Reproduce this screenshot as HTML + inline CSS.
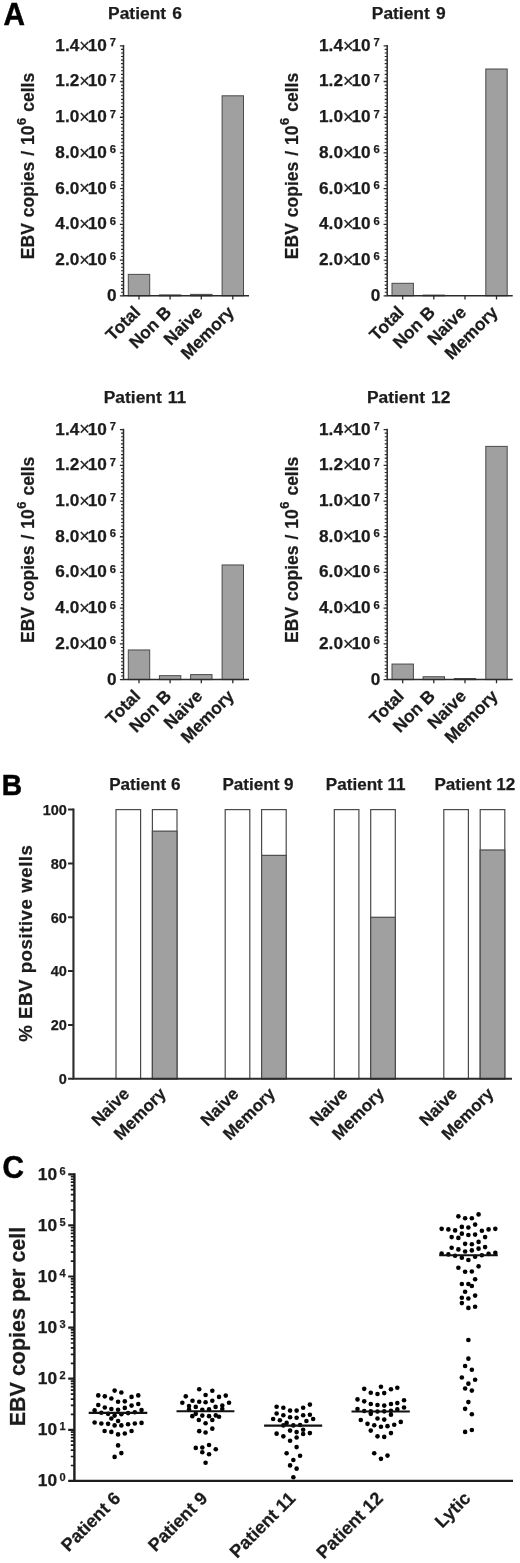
<!DOCTYPE html>
<html lang="en"><head><meta charset="utf-8"><title>Figure</title>
<style>html,body{margin:0;padding:0;background:#fff}svg{display:block;will-change:transform;filter:grayscale(1)}text{font-family:"Liberation Sans", Arial, Helvetica, sans-serif;font-weight:bold;fill:#1c1c1c;stroke:#1c1c1c;stroke-width:0.25px}</style></head><body>
<svg width="520" height="1563" viewBox="0 0 520 1563">
<rect width="520" height="1563" fill="#fff"/>
<text transform="translate(3.6 25) scale(0.94 1)" font-size="31.6" style="fill:#000;stroke:#000;stroke-width:0.5px">A</text>
<text transform="translate(1.8 794.7) scale(0.94 1)" font-size="30" style="fill:#000;stroke:#000;stroke-width:0.5px">B</text>
<text transform="translate(2.6 1178.4) scale(0.93 1)" font-size="32" style="fill:#000;stroke:#000;stroke-width:0.5px">C</text>
<text x="145" y="19.3" text-anchor="middle" font-size="17.4" word-spacing="1.3">Patient 6</text>
<text transform="translate(34.3 166) rotate(-90)" text-anchor="middle" font-size="17.5" word-spacing="1.1">EBV copies / 10<tspan dx="0.6" dy="-8.6" font-size="12.8">6</tspan><tspan dy="8.6"> cells</tspan></text>
<rect x="128.3" y="274.37" width="21.4" height="21.43" fill="#a0a0a0" stroke="#4a4a4a" stroke-width="1"/>
<rect x="159.4" y="294.91" width="21.4" height="0.89" fill="#a0a0a0" stroke="#4a4a4a" stroke-width="1"/>
<rect x="190.6" y="294.37" width="21.4" height="1.43" fill="#a0a0a0" stroke="#4a4a4a" stroke-width="1"/>
<rect x="222.1" y="95.8" width="21.4" height="200" fill="#a0a0a0" stroke="#4a4a4a" stroke-width="1"/>
<path d="M123.5 45.05 V295.8 H249" fill="none" stroke="#2b2b2b" stroke-width="1.5"/>
<path d="M123.5 295.8h-3.6M123.5 260.09h-3.6M123.5 224.37h-3.6M123.5 188.66h-3.6M123.5 152.94h-3.6M123.5 117.23h-3.6M123.5 81.51h-3.6M123.5 45.8h-3.6" fill="none" stroke="#2b2b2b" stroke-width="1.3"/>
<path d="M123.5 292.23h-2.5M123.5 288.66h-2.5M123.5 285.09h-2.5M123.5 281.51h-2.5M123.5 277.94h-2.5M123.5 274.37h-2.5M123.5 270.8h-2.5M123.5 267.23h-2.5M123.5 263.66h-2.5M123.5 256.51h-2.5M123.5 252.94h-2.5M123.5 249.37h-2.5M123.5 245.8h-2.5M123.5 242.23h-2.5M123.5 238.66h-2.5M123.5 235.09h-2.5M123.5 231.51h-2.5M123.5 227.94h-2.5M123.5 220.8h-2.5M123.5 217.23h-2.5M123.5 213.66h-2.5M123.5 210.09h-2.5M123.5 206.51h-2.5M123.5 202.94h-2.5M123.5 199.37h-2.5M123.5 195.8h-2.5M123.5 192.23h-2.5M123.5 185.09h-2.5M123.5 181.51h-2.5M123.5 177.94h-2.5M123.5 174.37h-2.5M123.5 170.8h-2.5M123.5 167.23h-2.5M123.5 163.66h-2.5M123.5 160.09h-2.5M123.5 156.51h-2.5M123.5 149.37h-2.5M123.5 145.8h-2.5M123.5 142.23h-2.5M123.5 138.66h-2.5M123.5 135.09h-2.5M123.5 131.51h-2.5M123.5 127.94h-2.5M123.5 124.37h-2.5M123.5 120.8h-2.5M123.5 113.66h-2.5M123.5 110.09h-2.5M123.5 106.51h-2.5M123.5 102.94h-2.5M123.5 99.37h-2.5M123.5 95.8h-2.5M123.5 92.23h-2.5M123.5 88.66h-2.5M123.5 85.09h-2.5M123.5 77.94h-2.5M123.5 74.37h-2.5M123.5 70.8h-2.5M123.5 67.23h-2.5M123.5 63.66h-2.5M123.5 60.09h-2.5M123.5 56.51h-2.5M123.5 52.94h-2.5M123.5 49.37h-2.5" fill="none" stroke="#2b2b2b" stroke-width="1.1"/>
<path d="M139 295.8v3.6M170.1 295.8v3.6M201.3 295.8v3.6M232.8 295.8v3.6" fill="none" stroke="#2b2b2b" stroke-width="1.3"/>
<text x="116.5" y="300.7" text-anchor="end" font-size="17.2">0</text>
<text x="106.8" y="264.99" text-anchor="end" font-size="17.2">2.0<tspan font-weight="normal" font-size="18" dy="0.8" letter-spacing="-2.1">×</tspan><tspan dy="-0.8">10</tspan></text>
<text x="109.8" y="260.49" font-size="11.2">6</text>
<text x="106.8" y="229.27" text-anchor="end" font-size="17.2">4.0<tspan font-weight="normal" font-size="18" dy="0.8" letter-spacing="-2.1">×</tspan><tspan dy="-0.8">10</tspan></text>
<text x="109.8" y="224.77" font-size="11.2">6</text>
<text x="106.8" y="193.56" text-anchor="end" font-size="17.2">6.0<tspan font-weight="normal" font-size="18" dy="0.8" letter-spacing="-2.1">×</tspan><tspan dy="-0.8">10</tspan></text>
<text x="109.8" y="189.06" font-size="11.2">6</text>
<text x="106.8" y="157.84" text-anchor="end" font-size="17.2">8.0<tspan font-weight="normal" font-size="18" dy="0.8" letter-spacing="-2.1">×</tspan><tspan dy="-0.8">10</tspan></text>
<text x="109.8" y="153.34" font-size="11.2">6</text>
<text x="106.8" y="122.13" text-anchor="end" font-size="17.2">1.0<tspan font-weight="normal" font-size="18" dy="0.8" letter-spacing="-2.1">×</tspan><tspan dy="-0.8">10</tspan></text>
<text x="109.8" y="117.63" font-size="11.2">7</text>
<text x="106.8" y="86.41" text-anchor="end" font-size="17.2">1.2<tspan font-weight="normal" font-size="18" dy="0.8" letter-spacing="-2.1">×</tspan><tspan dy="-0.8">10</tspan></text>
<text x="109.8" y="81.91" font-size="11.2">7</text>
<text x="106.8" y="50.7" text-anchor="end" font-size="17.2">1.4<tspan font-weight="normal" font-size="18" dy="0.8" letter-spacing="-2.1">×</tspan><tspan dy="-0.8">10</tspan></text>
<text x="109.8" y="46.2" font-size="11.2">7</text>
<text transform="translate(141.3 313.4) rotate(-45) scale(1 1)" text-anchor="end" font-size="17.4">Total</text>
<text transform="translate(172.4 313.4) rotate(-45) scale(1 1)" text-anchor="end" font-size="17.4">Non B</text>
<text transform="translate(203.6 313.4) rotate(-45) scale(1 1)" text-anchor="end" font-size="17.4">Naive</text>
<text transform="translate(235.1 313.4) rotate(-45) scale(1 1)" text-anchor="end" font-size="17.4">Memory</text>
<text x="408.7" y="19.3" text-anchor="middle" font-size="17.4" word-spacing="1.3">Patient 9</text>
<text transform="translate(298 166) rotate(-90)" text-anchor="middle" font-size="17.5" word-spacing="1.1">EBV copies / 10<tspan dx="0.6" dy="-8.6" font-size="12.8">6</tspan><tspan dy="8.6"> cells</tspan></text>
<rect x="392" y="283.3" width="21.4" height="12.5" fill="#a0a0a0" stroke="#4a4a4a" stroke-width="1"/>
<rect x="423.1" y="295.09" width="21.4" height="0.71" fill="#a0a0a0" stroke="#4a4a4a" stroke-width="1"/>
<rect x="485.8" y="69.01" width="21.4" height="226.79" fill="#a0a0a0" stroke="#4a4a4a" stroke-width="1"/>
<path d="M387.2 45.05 V295.8 H512.7" fill="none" stroke="#2b2b2b" stroke-width="1.5"/>
<path d="M387.2 295.8h-3.6M387.2 260.09h-3.6M387.2 224.37h-3.6M387.2 188.66h-3.6M387.2 152.94h-3.6M387.2 117.23h-3.6M387.2 81.51h-3.6M387.2 45.8h-3.6" fill="none" stroke="#2b2b2b" stroke-width="1.3"/>
<path d="M387.2 292.23h-2.5M387.2 288.66h-2.5M387.2 285.09h-2.5M387.2 281.51h-2.5M387.2 277.94h-2.5M387.2 274.37h-2.5M387.2 270.8h-2.5M387.2 267.23h-2.5M387.2 263.66h-2.5M387.2 256.51h-2.5M387.2 252.94h-2.5M387.2 249.37h-2.5M387.2 245.8h-2.5M387.2 242.23h-2.5M387.2 238.66h-2.5M387.2 235.09h-2.5M387.2 231.51h-2.5M387.2 227.94h-2.5M387.2 220.8h-2.5M387.2 217.23h-2.5M387.2 213.66h-2.5M387.2 210.09h-2.5M387.2 206.51h-2.5M387.2 202.94h-2.5M387.2 199.37h-2.5M387.2 195.8h-2.5M387.2 192.23h-2.5M387.2 185.09h-2.5M387.2 181.51h-2.5M387.2 177.94h-2.5M387.2 174.37h-2.5M387.2 170.8h-2.5M387.2 167.23h-2.5M387.2 163.66h-2.5M387.2 160.09h-2.5M387.2 156.51h-2.5M387.2 149.37h-2.5M387.2 145.8h-2.5M387.2 142.23h-2.5M387.2 138.66h-2.5M387.2 135.09h-2.5M387.2 131.51h-2.5M387.2 127.94h-2.5M387.2 124.37h-2.5M387.2 120.8h-2.5M387.2 113.66h-2.5M387.2 110.09h-2.5M387.2 106.51h-2.5M387.2 102.94h-2.5M387.2 99.37h-2.5M387.2 95.8h-2.5M387.2 92.23h-2.5M387.2 88.66h-2.5M387.2 85.09h-2.5M387.2 77.94h-2.5M387.2 74.37h-2.5M387.2 70.8h-2.5M387.2 67.23h-2.5M387.2 63.66h-2.5M387.2 60.09h-2.5M387.2 56.51h-2.5M387.2 52.94h-2.5M387.2 49.37h-2.5" fill="none" stroke="#2b2b2b" stroke-width="1.1"/>
<path d="M402.7 295.8v3.6M433.8 295.8v3.6M465 295.8v3.6M496.5 295.8v3.6" fill="none" stroke="#2b2b2b" stroke-width="1.3"/>
<text x="380.2" y="300.7" text-anchor="end" font-size="17.2">0</text>
<text x="370.5" y="264.99" text-anchor="end" font-size="17.2">2.0<tspan font-weight="normal" font-size="18" dy="0.8" letter-spacing="-2.1">×</tspan><tspan dy="-0.8">10</tspan></text>
<text x="373.5" y="260.49" font-size="11.2">6</text>
<text x="370.5" y="229.27" text-anchor="end" font-size="17.2">4.0<tspan font-weight="normal" font-size="18" dy="0.8" letter-spacing="-2.1">×</tspan><tspan dy="-0.8">10</tspan></text>
<text x="373.5" y="224.77" font-size="11.2">6</text>
<text x="370.5" y="193.56" text-anchor="end" font-size="17.2">6.0<tspan font-weight="normal" font-size="18" dy="0.8" letter-spacing="-2.1">×</tspan><tspan dy="-0.8">10</tspan></text>
<text x="373.5" y="189.06" font-size="11.2">6</text>
<text x="370.5" y="157.84" text-anchor="end" font-size="17.2">8.0<tspan font-weight="normal" font-size="18" dy="0.8" letter-spacing="-2.1">×</tspan><tspan dy="-0.8">10</tspan></text>
<text x="373.5" y="153.34" font-size="11.2">6</text>
<text x="370.5" y="122.13" text-anchor="end" font-size="17.2">1.0<tspan font-weight="normal" font-size="18" dy="0.8" letter-spacing="-2.1">×</tspan><tspan dy="-0.8">10</tspan></text>
<text x="373.5" y="117.63" font-size="11.2">7</text>
<text x="370.5" y="86.41" text-anchor="end" font-size="17.2">1.2<tspan font-weight="normal" font-size="18" dy="0.8" letter-spacing="-2.1">×</tspan><tspan dy="-0.8">10</tspan></text>
<text x="373.5" y="81.91" font-size="11.2">7</text>
<text x="370.5" y="50.7" text-anchor="end" font-size="17.2">1.4<tspan font-weight="normal" font-size="18" dy="0.8" letter-spacing="-2.1">×</tspan><tspan dy="-0.8">10</tspan></text>
<text x="373.5" y="46.2" font-size="11.2">7</text>
<text transform="translate(405 313.4) rotate(-45) scale(1 1)" text-anchor="end" font-size="17.4">Total</text>
<text transform="translate(436.1 313.4) rotate(-45) scale(1 1)" text-anchor="end" font-size="17.4">Non B</text>
<text transform="translate(467.3 313.4) rotate(-45) scale(1 1)" text-anchor="end" font-size="17.4">Naive</text>
<text transform="translate(498.8 313.4) rotate(-45) scale(1 1)" text-anchor="end" font-size="17.4">Memory</text>
<text x="145" y="403.1" text-anchor="middle" font-size="17.4" word-spacing="1.3">Patient 11</text>
<text transform="translate(34.3 549.8) rotate(-90)" text-anchor="middle" font-size="17.5" word-spacing="1.1">EBV copies / 10<tspan dx="0.6" dy="-8.6" font-size="12.8">6</tspan><tspan dy="8.6"> cells</tspan></text>
<rect x="128.3" y="649.96" width="21.4" height="29.64" fill="#a0a0a0" stroke="#4a4a4a" stroke-width="1"/>
<rect x="159.4" y="675.67" width="21.4" height="3.93" fill="#a0a0a0" stroke="#4a4a4a" stroke-width="1"/>
<rect x="190.6" y="674.6" width="21.4" height="5" fill="#a0a0a0" stroke="#4a4a4a" stroke-width="1"/>
<rect x="222.1" y="564.96" width="21.4" height="114.64" fill="#a0a0a0" stroke="#4a4a4a" stroke-width="1"/>
<path d="M123.5 428.85 V679.6 H249" fill="none" stroke="#2b2b2b" stroke-width="1.5"/>
<path d="M123.5 679.6h-3.6M123.5 643.89h-3.6M123.5 608.17h-3.6M123.5 572.46h-3.6M123.5 536.74h-3.6M123.5 501.03h-3.6M123.5 465.31h-3.6M123.5 429.6h-3.6" fill="none" stroke="#2b2b2b" stroke-width="1.3"/>
<path d="M123.5 676.03h-2.5M123.5 672.46h-2.5M123.5 668.89h-2.5M123.5 665.31h-2.5M123.5 661.74h-2.5M123.5 658.17h-2.5M123.5 654.6h-2.5M123.5 651.03h-2.5M123.5 647.46h-2.5M123.5 640.31h-2.5M123.5 636.74h-2.5M123.5 633.17h-2.5M123.5 629.6h-2.5M123.5 626.03h-2.5M123.5 622.46h-2.5M123.5 618.89h-2.5M123.5 615.31h-2.5M123.5 611.74h-2.5M123.5 604.6h-2.5M123.5 601.03h-2.5M123.5 597.46h-2.5M123.5 593.89h-2.5M123.5 590.31h-2.5M123.5 586.74h-2.5M123.5 583.17h-2.5M123.5 579.6h-2.5M123.5 576.03h-2.5M123.5 568.89h-2.5M123.5 565.31h-2.5M123.5 561.74h-2.5M123.5 558.17h-2.5M123.5 554.6h-2.5M123.5 551.03h-2.5M123.5 547.46h-2.5M123.5 543.89h-2.5M123.5 540.31h-2.5M123.5 533.17h-2.5M123.5 529.6h-2.5M123.5 526.03h-2.5M123.5 522.46h-2.5M123.5 518.89h-2.5M123.5 515.31h-2.5M123.5 511.74h-2.5M123.5 508.17h-2.5M123.5 504.6h-2.5M123.5 497.46h-2.5M123.5 493.89h-2.5M123.5 490.31h-2.5M123.5 486.74h-2.5M123.5 483.17h-2.5M123.5 479.6h-2.5M123.5 476.03h-2.5M123.5 472.46h-2.5M123.5 468.89h-2.5M123.5 461.74h-2.5M123.5 458.17h-2.5M123.5 454.6h-2.5M123.5 451.03h-2.5M123.5 447.46h-2.5M123.5 443.89h-2.5M123.5 440.31h-2.5M123.5 436.74h-2.5M123.5 433.17h-2.5" fill="none" stroke="#2b2b2b" stroke-width="1.1"/>
<path d="M139 679.6v3.6M170.1 679.6v3.6M201.3 679.6v3.6M232.8 679.6v3.6" fill="none" stroke="#2b2b2b" stroke-width="1.3"/>
<text x="116.5" y="684.5" text-anchor="end" font-size="17.2">0</text>
<text x="106.8" y="648.79" text-anchor="end" font-size="17.2">2.0<tspan font-weight="normal" font-size="18" dy="0.8" letter-spacing="-2.1">×</tspan><tspan dy="-0.8">10</tspan></text>
<text x="109.8" y="644.29" font-size="11.2">6</text>
<text x="106.8" y="613.07" text-anchor="end" font-size="17.2">4.0<tspan font-weight="normal" font-size="18" dy="0.8" letter-spacing="-2.1">×</tspan><tspan dy="-0.8">10</tspan></text>
<text x="109.8" y="608.57" font-size="11.2">6</text>
<text x="106.8" y="577.36" text-anchor="end" font-size="17.2">6.0<tspan font-weight="normal" font-size="18" dy="0.8" letter-spacing="-2.1">×</tspan><tspan dy="-0.8">10</tspan></text>
<text x="109.8" y="572.86" font-size="11.2">6</text>
<text x="106.8" y="541.64" text-anchor="end" font-size="17.2">8.0<tspan font-weight="normal" font-size="18" dy="0.8" letter-spacing="-2.1">×</tspan><tspan dy="-0.8">10</tspan></text>
<text x="109.8" y="537.14" font-size="11.2">6</text>
<text x="106.8" y="505.93" text-anchor="end" font-size="17.2">1.0<tspan font-weight="normal" font-size="18" dy="0.8" letter-spacing="-2.1">×</tspan><tspan dy="-0.8">10</tspan></text>
<text x="109.8" y="501.43" font-size="11.2">7</text>
<text x="106.8" y="470.21" text-anchor="end" font-size="17.2">1.2<tspan font-weight="normal" font-size="18" dy="0.8" letter-spacing="-2.1">×</tspan><tspan dy="-0.8">10</tspan></text>
<text x="109.8" y="465.71" font-size="11.2">7</text>
<text x="106.8" y="434.5" text-anchor="end" font-size="17.2">1.4<tspan font-weight="normal" font-size="18" dy="0.8" letter-spacing="-2.1">×</tspan><tspan dy="-0.8">10</tspan></text>
<text x="109.8" y="430" font-size="11.2">7</text>
<text transform="translate(141.3 697.2) rotate(-45) scale(1 1)" text-anchor="end" font-size="17.4">Total</text>
<text transform="translate(172.4 697.2) rotate(-45) scale(1 1)" text-anchor="end" font-size="17.4">Non B</text>
<text transform="translate(203.6 697.2) rotate(-45) scale(1 1)" text-anchor="end" font-size="17.4">Naive</text>
<text transform="translate(235.1 697.2) rotate(-45) scale(1 1)" text-anchor="end" font-size="17.4">Memory</text>
<text x="408.7" y="403.1" text-anchor="middle" font-size="17.4" word-spacing="1.3">Patient 12</text>
<text transform="translate(298 549.8) rotate(-90)" text-anchor="middle" font-size="17.5" word-spacing="1.1">EBV copies / 10<tspan dx="0.6" dy="-8.6" font-size="12.8">6</tspan><tspan dy="8.6"> cells</tspan></text>
<rect x="392" y="664.06" width="21.4" height="15.54" fill="#a0a0a0" stroke="#4a4a4a" stroke-width="1"/>
<rect x="423.1" y="676.74" width="21.4" height="2.86" fill="#a0a0a0" stroke="#4a4a4a" stroke-width="1"/>
<rect x="454.3" y="678.53" width="21.4" height="1.07" fill="#a0a0a0" stroke="#4a4a4a" stroke-width="1"/>
<rect x="485.8" y="446.39" width="21.4" height="233.21" fill="#a0a0a0" stroke="#4a4a4a" stroke-width="1"/>
<path d="M387.2 428.85 V679.6 H512.7" fill="none" stroke="#2b2b2b" stroke-width="1.5"/>
<path d="M387.2 679.6h-3.6M387.2 643.89h-3.6M387.2 608.17h-3.6M387.2 572.46h-3.6M387.2 536.74h-3.6M387.2 501.03h-3.6M387.2 465.31h-3.6M387.2 429.6h-3.6" fill="none" stroke="#2b2b2b" stroke-width="1.3"/>
<path d="M387.2 676.03h-2.5M387.2 672.46h-2.5M387.2 668.89h-2.5M387.2 665.31h-2.5M387.2 661.74h-2.5M387.2 658.17h-2.5M387.2 654.6h-2.5M387.2 651.03h-2.5M387.2 647.46h-2.5M387.2 640.31h-2.5M387.2 636.74h-2.5M387.2 633.17h-2.5M387.2 629.6h-2.5M387.2 626.03h-2.5M387.2 622.46h-2.5M387.2 618.89h-2.5M387.2 615.31h-2.5M387.2 611.74h-2.5M387.2 604.6h-2.5M387.2 601.03h-2.5M387.2 597.46h-2.5M387.2 593.89h-2.5M387.2 590.31h-2.5M387.2 586.74h-2.5M387.2 583.17h-2.5M387.2 579.6h-2.5M387.2 576.03h-2.5M387.2 568.89h-2.5M387.2 565.31h-2.5M387.2 561.74h-2.5M387.2 558.17h-2.5M387.2 554.6h-2.5M387.2 551.03h-2.5M387.2 547.46h-2.5M387.2 543.89h-2.5M387.2 540.31h-2.5M387.2 533.17h-2.5M387.2 529.6h-2.5M387.2 526.03h-2.5M387.2 522.46h-2.5M387.2 518.89h-2.5M387.2 515.31h-2.5M387.2 511.74h-2.5M387.2 508.17h-2.5M387.2 504.6h-2.5M387.2 497.46h-2.5M387.2 493.89h-2.5M387.2 490.31h-2.5M387.2 486.74h-2.5M387.2 483.17h-2.5M387.2 479.6h-2.5M387.2 476.03h-2.5M387.2 472.46h-2.5M387.2 468.89h-2.5M387.2 461.74h-2.5M387.2 458.17h-2.5M387.2 454.6h-2.5M387.2 451.03h-2.5M387.2 447.46h-2.5M387.2 443.89h-2.5M387.2 440.31h-2.5M387.2 436.74h-2.5M387.2 433.17h-2.5" fill="none" stroke="#2b2b2b" stroke-width="1.1"/>
<path d="M402.7 679.6v3.6M433.8 679.6v3.6M465 679.6v3.6M496.5 679.6v3.6" fill="none" stroke="#2b2b2b" stroke-width="1.3"/>
<text x="380.2" y="684.5" text-anchor="end" font-size="17.2">0</text>
<text x="370.5" y="648.79" text-anchor="end" font-size="17.2">2.0<tspan font-weight="normal" font-size="18" dy="0.8" letter-spacing="-2.1">×</tspan><tspan dy="-0.8">10</tspan></text>
<text x="373.5" y="644.29" font-size="11.2">6</text>
<text x="370.5" y="613.07" text-anchor="end" font-size="17.2">4.0<tspan font-weight="normal" font-size="18" dy="0.8" letter-spacing="-2.1">×</tspan><tspan dy="-0.8">10</tspan></text>
<text x="373.5" y="608.57" font-size="11.2">6</text>
<text x="370.5" y="577.36" text-anchor="end" font-size="17.2">6.0<tspan font-weight="normal" font-size="18" dy="0.8" letter-spacing="-2.1">×</tspan><tspan dy="-0.8">10</tspan></text>
<text x="373.5" y="572.86" font-size="11.2">6</text>
<text x="370.5" y="541.64" text-anchor="end" font-size="17.2">8.0<tspan font-weight="normal" font-size="18" dy="0.8" letter-spacing="-2.1">×</tspan><tspan dy="-0.8">10</tspan></text>
<text x="373.5" y="537.14" font-size="11.2">6</text>
<text x="370.5" y="505.93" text-anchor="end" font-size="17.2">1.0<tspan font-weight="normal" font-size="18" dy="0.8" letter-spacing="-2.1">×</tspan><tspan dy="-0.8">10</tspan></text>
<text x="373.5" y="501.43" font-size="11.2">7</text>
<text x="370.5" y="470.21" text-anchor="end" font-size="17.2">1.2<tspan font-weight="normal" font-size="18" dy="0.8" letter-spacing="-2.1">×</tspan><tspan dy="-0.8">10</tspan></text>
<text x="373.5" y="465.71" font-size="11.2">7</text>
<text x="370.5" y="434.5" text-anchor="end" font-size="17.2">1.4<tspan font-weight="normal" font-size="18" dy="0.8" letter-spacing="-2.1">×</tspan><tspan dy="-0.8">10</tspan></text>
<text x="373.5" y="430" font-size="11.2">7</text>
<text transform="translate(405 697.2) rotate(-45) scale(1 1)" text-anchor="end" font-size="17.4">Total</text>
<text transform="translate(436.1 697.2) rotate(-45) scale(1 1)" text-anchor="end" font-size="17.4">Non B</text>
<text transform="translate(467.3 697.2) rotate(-45) scale(1 1)" text-anchor="end" font-size="17.4">Naive</text>
<text transform="translate(498.8 697.2) rotate(-45) scale(1 1)" text-anchor="end" font-size="17.4">Memory</text>
<rect x="116" y="809.6" width="24.6" height="269.2" fill="#fff" stroke="#4a4a4a" stroke-width="1.2"/>
<rect x="152.4" y="809.6" width="24.6" height="269.2" fill="#fff" stroke="#4a4a4a" stroke-width="1.2"/>
<rect x="152.4" y="831.14" width="24.6" height="247.66" fill="#a0a0a0" stroke="#4a4a4a" stroke-width="1.2"/>
<text transform="translate(144.8 789.6) scale(1 1)" text-anchor="middle" font-size="17.1">Patient 6</text>
<text transform="translate(130.5 1094.8) rotate(-45)" text-anchor="end" font-size="17">Naive</text>
<text transform="translate(166.9 1094.8) rotate(-45)" text-anchor="end" font-size="17">Memory</text>
<rect x="225.2" y="809.6" width="24.6" height="269.2" fill="#fff" stroke="#4a4a4a" stroke-width="1.2"/>
<rect x="261.6" y="809.6" width="24.6" height="269.2" fill="#fff" stroke="#4a4a4a" stroke-width="1.2"/>
<rect x="261.6" y="855.36" width="24.6" height="223.44" fill="#a0a0a0" stroke="#4a4a4a" stroke-width="1.2"/>
<text transform="translate(258 789.6) scale(1 1)" text-anchor="middle" font-size="17.1">Patient 9</text>
<text transform="translate(239.7 1094.8) rotate(-45)" text-anchor="end" font-size="17">Naive</text>
<text transform="translate(276.1 1094.8) rotate(-45)" text-anchor="end" font-size="17">Memory</text>
<rect x="334.3" y="809.6" width="24.6" height="269.2" fill="#fff" stroke="#4a4a4a" stroke-width="1.2"/>
<rect x="370.7" y="809.6" width="24.6" height="269.2" fill="#fff" stroke="#4a4a4a" stroke-width="1.2"/>
<rect x="370.7" y="917.28" width="24.6" height="161.52" fill="#a0a0a0" stroke="#4a4a4a" stroke-width="1.2"/>
<text transform="translate(365.7 789.6) scale(1 1)" text-anchor="middle" font-size="17.1">Patient 11</text>
<text transform="translate(348.8 1094.8) rotate(-45)" text-anchor="end" font-size="17">Naive</text>
<text transform="translate(385.2 1094.8) rotate(-45)" text-anchor="end" font-size="17">Memory</text>
<rect x="443.8" y="809.6" width="24.6" height="269.2" fill="#fff" stroke="#4a4a4a" stroke-width="1.2"/>
<rect x="480.2" y="809.6" width="24.6" height="269.2" fill="#fff" stroke="#4a4a4a" stroke-width="1.2"/>
<rect x="480.2" y="849.98" width="24.6" height="228.82" fill="#a0a0a0" stroke="#4a4a4a" stroke-width="1.2"/>
<text transform="translate(474.8 789.6) scale(1 1)" text-anchor="middle" font-size="17.1">Patient 12</text>
<text transform="translate(458.3 1094.8) rotate(-45)" text-anchor="end" font-size="17">Naive</text>
<text transform="translate(494.7 1094.8) rotate(-45)" text-anchor="end" font-size="17">Memory</text>
<path d="M73.45 808.6 V1078.8 H512" fill="none" stroke="#2b2b2b" stroke-width="2.1"/>
<text x="66.85" y="1084.1" text-anchor="end" font-size="14.5">0</text>
<text x="66.85" y="1030.26" text-anchor="end" font-size="14.5">20</text>
<text x="66.85" y="976.42" text-anchor="end" font-size="14.5">40</text>
<text x="66.85" y="922.58" text-anchor="end" font-size="14.5">60</text>
<text x="66.85" y="868.74" text-anchor="end" font-size="14.5">80</text>
<text x="66.85" y="814.9" text-anchor="end" font-size="14.5">100</text>
<path d="M73.45 1078.8h-5.4M73.45 1024.96h-5.4M73.45 971.12h-5.4M73.45 917.28h-5.4M73.45 863.44h-5.4M73.45 809.6h-5.4" fill="none" stroke="#2b2b2b" stroke-width="2"/>
<text transform="translate(32.2 943.2) rotate(-90)" text-anchor="middle" font-size="18.7" letter-spacing="0.52">% EBV positive wells</text>
<circle cx="114.62" cy="1390.58" r="2.3"/>
<circle cx="121.35" cy="1392.5" r="2.3"/>
<circle cx="98.27" cy="1395.38" r="2.3"/>
<circle cx="104.81" cy="1396.35" r="2.3"/>
<circle cx="111.35" cy="1398.46" r="2.3"/>
<circle cx="131.54" cy="1396.92" r="2.3"/>
<circle cx="138.27" cy="1395.38" r="2.3"/>
<circle cx="118.08" cy="1401.73" r="2.3"/>
<circle cx="124.81" cy="1401.35" r="2.3"/>
<circle cx="98.27" cy="1405" r="2.3"/>
<circle cx="104.81" cy="1407.5" r="2.3"/>
<circle cx="131.54" cy="1405.58" r="2.3"/>
<circle cx="138.27" cy="1404.04" r="2.3"/>
<circle cx="111.35" cy="1409.04" r="2.3"/>
<circle cx="118.08" cy="1409.81" r="2.3"/>
<circle cx="124.81" cy="1407.88" r="2.3"/>
<circle cx="94.62" cy="1410.38" r="2.3"/>
<circle cx="141.54" cy="1410" r="2.3"/>
<circle cx="101.35" cy="1412.69" r="2.3"/>
<circle cx="108.08" cy="1413.85" r="2.3"/>
<circle cx="114.62" cy="1415.58" r="2.3"/>
<circle cx="121.35" cy="1414.23" r="2.3"/>
<circle cx="128.08" cy="1413.08" r="2.3"/>
<circle cx="134.81" cy="1412.31" r="2.3"/>
<circle cx="111.35" cy="1418.46" r="2.3"/>
<circle cx="118.08" cy="1420.96" r="2.3"/>
<circle cx="94.62" cy="1422.5" r="2.3"/>
<circle cx="101.35" cy="1423.46" r="2.3"/>
<circle cx="108.08" cy="1423.85" r="2.3"/>
<circle cx="114.62" cy="1425.38" r="2.3"/>
<circle cx="121.35" cy="1425.38" r="2.3"/>
<circle cx="128.08" cy="1424.23" r="2.3"/>
<circle cx="134.81" cy="1423.46" r="2.3"/>
<circle cx="141.54" cy="1422.88" r="2.3"/>
<circle cx="104.62" cy="1430.96" r="2.3"/>
<circle cx="111.35" cy="1431.92" r="2.3"/>
<circle cx="118.08" cy="1434.42" r="2.3"/>
<circle cx="124.81" cy="1433.46" r="2.3"/>
<circle cx="131.54" cy="1430.96" r="2.3"/>
<circle cx="118.08" cy="1445.38" r="2.3"/>
<circle cx="121.35" cy="1453.08" r="2.3"/>
<circle cx="114.62" cy="1456.92" r="2.3"/>
<circle cx="199.23" cy="1389.23" r="2.3"/>
<circle cx="212.31" cy="1390.77" r="2.3"/>
<circle cx="205.58" cy="1395" r="2.3"/>
<circle cx="185.77" cy="1396.35" r="2.3"/>
<circle cx="219.04" cy="1396.92" r="2.3"/>
<circle cx="225.77" cy="1395.58" r="2.3"/>
<circle cx="192.5" cy="1400.77" r="2.3"/>
<circle cx="199.23" cy="1401.73" r="2.3"/>
<circle cx="205.58" cy="1402.31" r="2.3"/>
<circle cx="212.31" cy="1400.77" r="2.3"/>
<circle cx="182.31" cy="1402.69" r="2.3"/>
<circle cx="229.04" cy="1402.69" r="2.3"/>
<circle cx="189.04" cy="1405.96" r="2.3"/>
<circle cx="195.77" cy="1406.92" r="2.3"/>
<circle cx="215.58" cy="1406.92" r="2.3"/>
<circle cx="222.31" cy="1405.58" r="2.3"/>
<circle cx="189.04" cy="1409.42" r="2.3"/>
<circle cx="202.31" cy="1409.81" r="2.3"/>
<circle cx="209.04" cy="1409.42" r="2.3"/>
<circle cx="222.31" cy="1409.04" r="2.3"/>
<circle cx="195.77" cy="1413.85" r="2.3"/>
<circle cx="192.31" cy="1416.15" r="2.3"/>
<circle cx="202.31" cy="1415.58" r="2.3"/>
<circle cx="209.04" cy="1416.15" r="2.3"/>
<circle cx="215.77" cy="1415.38" r="2.3"/>
<circle cx="219.04" cy="1416.73" r="2.3"/>
<circle cx="198.85" cy="1420" r="2.3"/>
<circle cx="212.31" cy="1420" r="2.3"/>
<circle cx="205.58" cy="1423.27" r="2.3"/>
<circle cx="212.31" cy="1428.65" r="2.3"/>
<circle cx="199.23" cy="1431.15" r="2.3"/>
<circle cx="205.58" cy="1432.5" r="2.3"/>
<circle cx="209.04" cy="1445" r="2.3"/>
<circle cx="195.77" cy="1447.88" r="2.3"/>
<circle cx="202.31" cy="1447.5" r="2.3"/>
<circle cx="215.77" cy="1449.23" r="2.3"/>
<circle cx="202.31" cy="1452.31" r="2.3"/>
<circle cx="209.04" cy="1454.23" r="2.3"/>
<circle cx="205.58" cy="1462.69" r="2.3"/>
<circle cx="309.88" cy="1404.62" r="2.3"/>
<circle cx="276.62" cy="1406.73" r="2.3"/>
<circle cx="283.35" cy="1407.69" r="2.3"/>
<circle cx="303.15" cy="1407.69" r="2.3"/>
<circle cx="290.08" cy="1410.58" r="2.3"/>
<circle cx="296.62" cy="1410.58" r="2.3"/>
<circle cx="276.62" cy="1413.46" r="2.3"/>
<circle cx="283.35" cy="1415.19" r="2.3"/>
<circle cx="303.15" cy="1415.19" r="2.3"/>
<circle cx="309.88" cy="1414.81" r="2.3"/>
<circle cx="290.08" cy="1417.31" r="2.3"/>
<circle cx="296.62" cy="1417.69" r="2.3"/>
<circle cx="273.15" cy="1419.04" r="2.3"/>
<circle cx="279.88" cy="1420.19" r="2.3"/>
<circle cx="306.42" cy="1420.96" r="2.3"/>
<circle cx="313.15" cy="1419.04" r="2.3"/>
<circle cx="286.62" cy="1422.88" r="2.3"/>
<circle cx="283.35" cy="1425.38" r="2.3"/>
<circle cx="293.35" cy="1425.38" r="2.3"/>
<circle cx="300.08" cy="1425" r="2.3"/>
<circle cx="290.08" cy="1430.58" r="2.3"/>
<circle cx="296.62" cy="1432.12" r="2.3"/>
<circle cx="303.15" cy="1429.81" r="2.3"/>
<circle cx="276.62" cy="1433.65" r="2.3"/>
<circle cx="303.15" cy="1434.04" r="2.3"/>
<circle cx="309.88" cy="1433.08" r="2.3"/>
<circle cx="283.35" cy="1436.35" r="2.3"/>
<circle cx="296.62" cy="1437.5" r="2.3"/>
<circle cx="290.08" cy="1440.77" r="2.3"/>
<circle cx="296.62" cy="1447.12" r="2.3"/>
<circle cx="286.62" cy="1453.27" r="2.3"/>
<circle cx="300.08" cy="1455.77" r="2.3"/>
<circle cx="293.35" cy="1460" r="2.3"/>
<circle cx="290.08" cy="1465.38" r="2.3"/>
<circle cx="296.62" cy="1468.65" r="2.3"/>
<circle cx="293.35" cy="1477.31" r="2.3"/>
<circle cx="380.96" cy="1386.73" r="2.3"/>
<circle cx="397.31" cy="1387.69" r="2.3"/>
<circle cx="364.23" cy="1388.85" r="2.3"/>
<circle cx="390.96" cy="1389.23" r="2.3"/>
<circle cx="370.77" cy="1392.69" r="2.3"/>
<circle cx="377.5" cy="1394.04" r="2.3"/>
<circle cx="384.23" cy="1393.08" r="2.3"/>
<circle cx="357.5" cy="1399.42" r="2.3"/>
<circle cx="364.23" cy="1401.35" r="2.3"/>
<circle cx="404.04" cy="1400.19" r="2.3"/>
<circle cx="370.77" cy="1404.04" r="2.3"/>
<circle cx="377.5" cy="1405" r="2.3"/>
<circle cx="384.23" cy="1405.58" r="2.3"/>
<circle cx="390.96" cy="1404.04" r="2.3"/>
<circle cx="397.31" cy="1403.08" r="2.3"/>
<circle cx="357.5" cy="1409.04" r="2.3"/>
<circle cx="404.04" cy="1407.5" r="2.3"/>
<circle cx="397.31" cy="1409.42" r="2.3"/>
<circle cx="364.23" cy="1410.96" r="2.3"/>
<circle cx="370.77" cy="1411.35" r="2.3"/>
<circle cx="377.5" cy="1411.54" r="2.3"/>
<circle cx="384.23" cy="1411.35" r="2.3"/>
<circle cx="390.96" cy="1410.77" r="2.3"/>
<circle cx="370.77" cy="1413.85" r="2.3"/>
<circle cx="390.96" cy="1414.81" r="2.3"/>
<circle cx="377.5" cy="1418.46" r="2.3"/>
<circle cx="384.23" cy="1419.62" r="2.3"/>
<circle cx="360.77" cy="1420" r="2.3"/>
<circle cx="400.77" cy="1421.92" r="2.3"/>
<circle cx="367.5" cy="1423.85" r="2.3"/>
<circle cx="374.23" cy="1425.19" r="2.3"/>
<circle cx="380.96" cy="1426.73" r="2.3"/>
<circle cx="387.5" cy="1426.15" r="2.3"/>
<circle cx="394.23" cy="1424.81" r="2.3"/>
<circle cx="370.77" cy="1430.58" r="2.3"/>
<circle cx="390.96" cy="1433.08" r="2.3"/>
<circle cx="377.5" cy="1436.35" r="2.3"/>
<circle cx="384.23" cy="1436.92" r="2.3"/>
<circle cx="374.23" cy="1453.27" r="2.3"/>
<circle cx="380.96" cy="1458.85" r="2.3"/>
<circle cx="387.5" cy="1455.58" r="2.3"/>
<circle cx="478.58" cy="1214.42" r="2.3"/>
<circle cx="458.38" cy="1216.35" r="2.3"/>
<circle cx="465.12" cy="1218.27" r="2.3"/>
<circle cx="471.85" cy="1218.27" r="2.3"/>
<circle cx="475.12" cy="1224.62" r="2.3"/>
<circle cx="461.85" cy="1226.92" r="2.3"/>
<circle cx="468.38" cy="1227.5" r="2.3"/>
<circle cx="441.65" cy="1228.85" r="2.3"/>
<circle cx="448.38" cy="1229.42" r="2.3"/>
<circle cx="455.12" cy="1230.38" r="2.3"/>
<circle cx="481.85" cy="1230.77" r="2.3"/>
<circle cx="488.58" cy="1229.42" r="2.3"/>
<circle cx="495.31" cy="1228.85" r="2.3"/>
<circle cx="461.85" cy="1233.65" r="2.3"/>
<circle cx="468.38" cy="1235" r="2.3"/>
<circle cx="475.12" cy="1234.62" r="2.3"/>
<circle cx="451.65" cy="1237.12" r="2.3"/>
<circle cx="458.38" cy="1237.88" r="2.3"/>
<circle cx="485.12" cy="1237.12" r="2.3"/>
<circle cx="478.58" cy="1241.92" r="2.3"/>
<circle cx="465.12" cy="1243.85" r="2.3"/>
<circle cx="471.85" cy="1244.23" r="2.3"/>
<circle cx="451.65" cy="1247.69" r="2.3"/>
<circle cx="458.38" cy="1249.42" r="2.3"/>
<circle cx="478.58" cy="1248.65" r="2.3"/>
<circle cx="485.12" cy="1247.12" r="2.3"/>
<circle cx="465.12" cy="1251.54" r="2.3"/>
<circle cx="471.85" cy="1250.38" r="2.3"/>
<circle cx="441.65" cy="1253.46" r="2.3"/>
<circle cx="448.38" cy="1254.42" r="2.3"/>
<circle cx="455.12" cy="1255.77" r="2.3"/>
<circle cx="481.85" cy="1255.19" r="2.3"/>
<circle cx="488.58" cy="1253.85" r="2.3"/>
<circle cx="495.31" cy="1252.88" r="2.3"/>
<circle cx="461.85" cy="1257.69" r="2.3"/>
<circle cx="475.12" cy="1256.73" r="2.3"/>
<circle cx="468.38" cy="1260" r="2.3"/>
<circle cx="458.38" cy="1267.69" r="2.3"/>
<circle cx="478.58" cy="1266.35" r="2.3"/>
<circle cx="465.12" cy="1271.73" r="2.3"/>
<circle cx="471.85" cy="1271.54" r="2.3"/>
<circle cx="475.12" cy="1279.23" r="2.3"/>
<circle cx="461.85" cy="1284.04" r="2.3"/>
<circle cx="468.38" cy="1284.04" r="2.3"/>
<circle cx="471.85" cy="1285.96" r="2.3"/>
<circle cx="465.12" cy="1291.73" r="2.3"/>
<circle cx="475.12" cy="1295.58" r="2.3"/>
<circle cx="461.85" cy="1297.69" r="2.3"/>
<circle cx="468.38" cy="1298.46" r="2.3"/>
<circle cx="461.85" cy="1303.08" r="2.3"/>
<circle cx="468.38" cy="1307.88" r="2.3"/>
<circle cx="475.12" cy="1306.73" r="2.3"/>
<circle cx="468.38" cy="1340" r="2.3"/>
<circle cx="468.38" cy="1358.65" r="2.3"/>
<circle cx="465.12" cy="1365.96" r="2.3"/>
<circle cx="471.85" cy="1369.81" r="2.3"/>
<circle cx="461.85" cy="1377.5" r="2.3"/>
<circle cx="475.12" cy="1379.81" r="2.3"/>
<circle cx="468.38" cy="1383.65" r="2.3"/>
<circle cx="465.12" cy="1388.46" r="2.3"/>
<circle cx="471.85" cy="1390.58" r="2.3"/>
<circle cx="468.38" cy="1402.12" r="2.3"/>
<circle cx="465.12" cy="1408.85" r="2.3"/>
<circle cx="471.85" cy="1414.23" r="2.3"/>
<circle cx="471.85" cy="1430" r="2.3"/>
<circle cx="465.12" cy="1431.92" r="2.3"/>
<path d="M88.7 1412.9H147.3" stroke="#111" stroke-width="2.1" fill="none"/>
<path d="M176.5 1411.3H234.4" stroke="#111" stroke-width="2.1" fill="none"/>
<path d="M264.1 1425.6H322.2" stroke="#111" stroke-width="2.1" fill="none"/>
<path d="M351.5 1411.5H409.8" stroke="#111" stroke-width="2.1" fill="none"/>
<path d="M439.2 1255.2H497.8" stroke="#111" stroke-width="2.1" fill="none"/>
<path d="M74.4 1173.2 V1480.9 H513" fill="none" stroke="#1c1c1c" stroke-width="2.4"/>
<text x="57.2" y="1486.4" text-anchor="end" font-size="17.4">10</text>
<text x="59.6" y="1481.4" font-size="11">0</text>
<text x="57.2" y="1435.3" text-anchor="end" font-size="17.4">10</text>
<text x="59.6" y="1430.3" font-size="11">1</text>
<text x="57.2" y="1384.2" text-anchor="end" font-size="17.4">10</text>
<text x="59.6" y="1379.2" font-size="11">2</text>
<text x="57.2" y="1333.1" text-anchor="end" font-size="17.4">10</text>
<text x="59.6" y="1328.1" font-size="11">3</text>
<text x="57.2" y="1282" text-anchor="end" font-size="17.4">10</text>
<text x="59.6" y="1277" font-size="11">4</text>
<text x="57.2" y="1230.9" text-anchor="end" font-size="17.4">10</text>
<text x="59.6" y="1225.9" font-size="11">5</text>
<text x="57.2" y="1179.8" text-anchor="end" font-size="17.4">10</text>
<text x="59.6" y="1174.8" font-size="11">6</text>
<path d="M74.4 1480.9h-6.2M74.4 1429.8h-6.2M74.4 1378.7h-6.2M74.4 1327.6h-6.2M74.4 1276.5h-6.2M74.4 1225.4h-6.2M74.4 1174.3h-6.2" fill="none" stroke="#1c1c1c" stroke-width="2.2"/>
<path d="M74.4 1465.52h-3.6M74.4 1456.52h-3.6M74.4 1450.13h-3.6M74.4 1445.18h-3.6M74.4 1441.14h-3.6M74.4 1437.72h-3.6M74.4 1434.75h-3.6M74.4 1432.14h-3.6M74.4 1414.42h-3.6M74.4 1405.42h-3.6M74.4 1399.03h-3.6M74.4 1394.08h-3.6M74.4 1390.04h-3.6M74.4 1386.62h-3.6M74.4 1383.65h-3.6M74.4 1381.04h-3.6M74.4 1363.32h-3.6M74.4 1354.32h-3.6M74.4 1347.93h-3.6M74.4 1342.98h-3.6M74.4 1338.94h-3.6M74.4 1335.52h-3.6M74.4 1332.55h-3.6M74.4 1329.94h-3.6M74.4 1312.22h-3.6M74.4 1303.22h-3.6M74.4 1296.83h-3.6M74.4 1291.88h-3.6M74.4 1287.84h-3.6M74.4 1284.42h-3.6M74.4 1281.45h-3.6M74.4 1278.84h-3.6M74.4 1261.12h-3.6M74.4 1252.12h-3.6M74.4 1245.73h-3.6M74.4 1240.78h-3.6M74.4 1236.74h-3.6M74.4 1233.32h-3.6M74.4 1230.35h-3.6M74.4 1227.74h-3.6M74.4 1210.02h-3.6M74.4 1201.02h-3.6M74.4 1194.63h-3.6M74.4 1189.68h-3.6M74.4 1185.64h-3.6M74.4 1182.22h-3.6M74.4 1179.25h-3.6M74.4 1176.64h-3.6" fill="none" stroke="#1c1c1c" stroke-width="1.7"/>
<text transform="translate(25.1 1326.5) rotate(-90)" text-anchor="middle" font-size="21.5">EBV copies per cell</text>
<text transform="translate(121.5 1499.5) rotate(-45)" text-anchor="end" font-size="18">Patient 6</text>
<text transform="translate(208.5 1499.5) rotate(-45)" text-anchor="end" font-size="18">Patient 9</text>
<text transform="translate(296.5 1499.5) rotate(-45)" text-anchor="end" font-size="18">Patient 11</text>
<text transform="translate(384 1499.5) rotate(-45)" text-anchor="end" font-size="18">Patient 12</text>
<text transform="translate(471.5 1499.5) rotate(-45)" text-anchor="end" font-size="18">Lytic</text>
</svg></body></html>
